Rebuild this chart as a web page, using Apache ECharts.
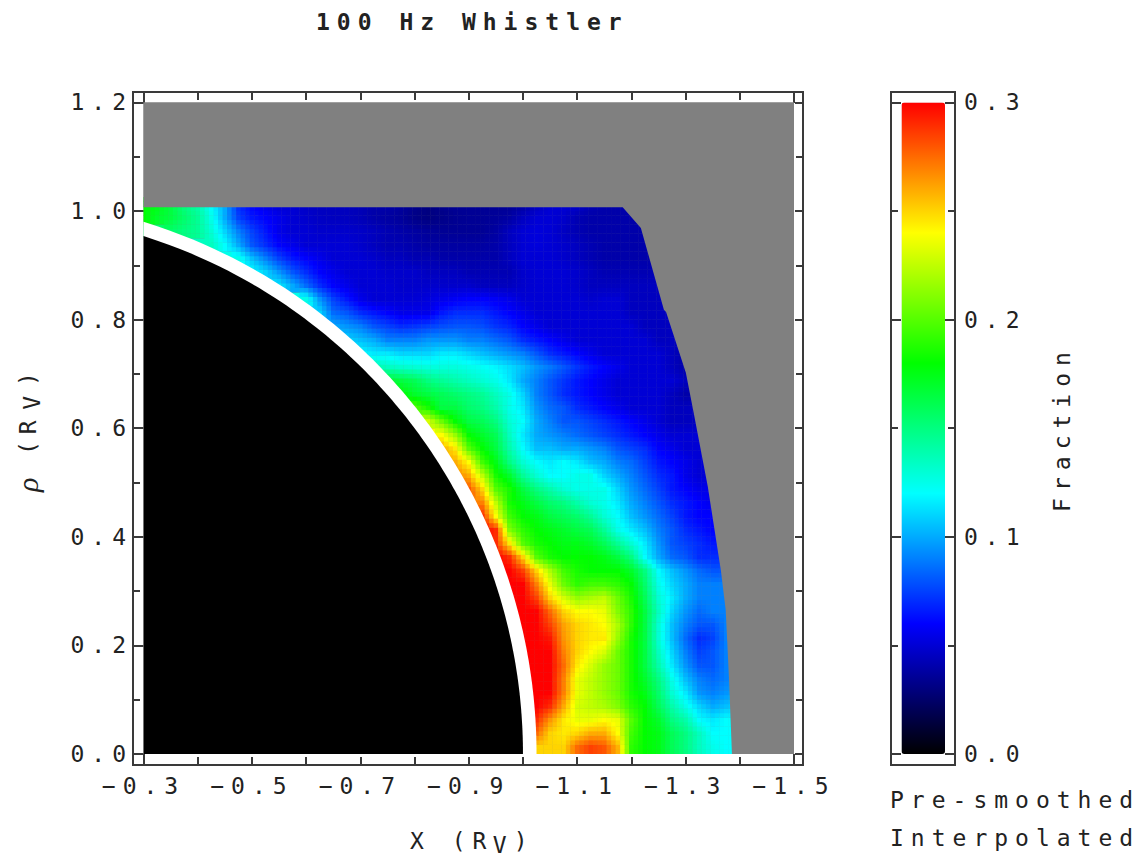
<!DOCTYPE html>
<html><head><meta charset="utf-8">
<style>
html,body{margin:0;padding:0;background:#fff}
#c{width:1142px;height:857px}
#c text{letter-spacing:7px}
</style>
<script src="https://cdn.jsdelivr.net/npm/echarts@6/dist/echarts.min.js"></script>
</head><body><div id="c"></div>
<script>
// Fraction, in thousandths. rows[j] is the row rho = rowRho0 + j*cellSize,
// its first value sits in column rowStart[j]; column i is X = colX0 - i*cellSize.
const colX0 = -0.3, rowRho0 = 0.0125, cellSize = 0.025;
const rowStart = [29,29,29,29,29,29,28,28,28,28,28,27,27,27,26,26,25,25,25,24,23,23,22,22,21,20,19,18,17,16,15,14,13,12,10,8,7,5,2,0,0];
const rows = [
[250,250,250,275,285,280,258,190,180,175,160,150,135,125,120,120],
[275,250,245,250,260,260,240,195,180,175,160,150,135,120,120,120],
[290,265,245,235,235,240,235,200,180,170,150,140,120,115,120,120],
[300,290,260,230,225,220,210,190,180,160,140,125,110,100,105,110],
[300,300,270,235,225,215,205,185,175,155,130,115,95,90,95,100],
[300,300,270,235,225,215,205,185,170,150,125,105,90,85,90,95],
[300,300,300,275,245,230,215,205,185,165,140,115,95,80,80,90,95],
[300,300,300,270,250,240,230,205,185,165,135,110,90,75,80,90,95],
[300,300,295,265,250,245,245,215,185,165,130,105,85,70,75,90,95],
[300,300,285,262,250,245,240,220,190,165,130,105,90,80,80,90,95],
[300,300,275,250,240,240,235,210,190,165,135,110,95,85,90,90,90],
[300,300,285,250,230,215,220,225,205,185,160,130,115,100,90,90,90],
[300,300,270,235,205,190,195,195,190,180,155,125,110,100,90,90,90],
[300,285,250,220,195,185,180,180,180,170,150,120,105,95,85,80,80],
[300,290,250,200,185,180,180,180,175,165,150,120,100,85,80,70,70,70],
[290,245,200,185,180,175,175,170,160,145,130,115,95,80,75,70,65,65],
[300,290,210,190,180,175,170,165,160,145,125,115,105,90,80,70,65,60,60],
[290,240,195,180,175,165,160,155,145,130,120,105,95,85,75,65,60,60],
[270,225,185,175,165,155,150,140,130,125,115,100,90,80,70,65,60,55],
[280,250,200,185,165,150,140,130,125,125,125,110,95,85,75,65,60,55,55],
[270,260,225,185,170,145,130,120,120,125,125,110,100,90,80,70,65,55,50,50],
[260,240,195,175,150,130,120,115,120,115,105,100,90,85,75,65,60,55,50,50],
[260,245,200,180,165,140,120,105,105,100,100,95,90,80,75,70,60,55,50,50,50],
[240,215,180,170,160,135,115,100,95,90,85,80,75,70,65,60,55,50,50,50],
[230,205,180,165,160,150,130,120,100,90,80,80,75,70,65,60,55,50,45,45,45],
[200,185,165,165,155,150,140,125,115,95,85,80,70,65,60,55,50,50,50,45,45,45],
[180,170,165,160,155,150,145,135,125,110,90,80,70,65,60,55,50,50,50,50,45,40],
[170,165,160,150,145,140,135,130,125,115,100,90,80,72,65,60,55,50,50,50,50,50,45,40],
[140,135,132,130,128,128,128,125,122,118,112,105,95,88,80,72,65,60,55,50,50,50,45,40],
[120,115,115,110,110,110,115,115,110,105,100,95,90,80,70,65,60,55,50,50,50,50,50,45,40],
[110,105,100,90,90,90,95,95,95,90,90,85,80,70,65,60,55,50,50,50,50,50,50,45,45],
[100,95,90,80,75,70,72,75,78,80,80,78,72,68,60,55,50,50,50,50,50,50,50,45,45,45],
[110,85,80,70,65,60,55,55,55,65,70,70,70,65,60,55,50,50,50,50,50,50,50,45,45,45,45],
[125,95,75,65,55,50,50,50,50,52,55,58,60,60,58,55,50,50,50,50,50,48,50,50,45,45,45],
[115,100,85,70,60,55,50,50,50,48,48,48,48,48,48,45,45,45,48,50,50,50,48,45,45,45,45,45,45],
[120,110,95,80,70,60,55,50,50,50,48,48,48,45,45,45,42,42,42,42,48,50,50,50,48,45,42,42,42,42,42],
[125,105,90,75,65,60,55,50,50,50,48,45,45,42,42,40,40,40,40,40,45,50,50,50,48,45,42,40,40,40,40],
[135,120,100,80,70,60,55,50,50,50,50,48,45,42,42,40,38,38,38,38,38,40,45,50,52,50,48,45,42,40,40,40,40],
[155,150,145,130,110,90,75,65,55,50,50,48,48,48,47,45,42,40,38,36,35,35,35,35,38,45,50,52,50,46,42,40,40,40,40,40],
[180,170,165,155,145,125,100,75,65,60,55,50,48,46,45,45,43,40,38,36,32,30,32,34,35,35,36,38,45,50,50,48,42,40,40,40,40],
[180,175,165,150,140,120,100,70,60,55,50,50,47,45,45,45,43,40,40,37,33,30,33,35,35,35,35,35,38,45,50,50,48,42,40,40,40,40]
];
// Edge of the sampled region (everything beyond it is grey)
const edgeX = [-1.3855,-1.380,-1.374,-1.365,-1.341,-1.315,-1.3005,-1.264,-1.260,-1.2175,-1.184,-0.3];
const edgeRho = [0,0.142,0.265,0.339,0.492,0.628,0.702,0.814,0.818,0.969,1.007,1.007];
const plotX = [-0.3,-1.5], plotRho = [0,1.2];
const planetRadius = 1.0, ringRadius = 1.025;
const xLabels = [-0.3,-0.5,-0.7,-0.9,-1.1,-1.3,-1.5];
const xTicks = [-0.3,-0.4,-0.5,-0.6,-0.7,-0.8,-0.9,-1.0,-1.1,-1.2,-1.3,-1.4,-1.5];
const rhoMajor = [0,0.2,0.4,0.6,0.8,1.0,1.2];
const rhoMinor = [0.1,0.3,0.5,0.7,0.9,1.1];
const barMajor = [0,0.1,0.2,0.3];
const barMinor = [0.05,0.15,0.25];
const colourStops = ['#000000','#0000ff','#00ffff','#00ff00','#ffff00','#ff0000'];
const fractionMax = 0.3;

const LINE = {color:'#3a3a3a',width:2};
const FONT = 'DejaVu Sans Mono', TXT = '#222';
const cells = [];
rows.forEach((r,j)=>r.forEach((v,k)=>cells.push([colX0-(rowStart[j]+k)*cellSize,rowRho0+j*cellSize,v/1000,j,rowStart[j]+k])));
const shade=v=>echarts.color.lerp(Math.min(v,300)/1000/fractionMax,colourStops);
function at(j,i){const r=rows[j];if(!r)return null;const k=i-rowStart[j];return k>=0&&k<r.length?r[k]:null;}
// A read cell is painted with a soft shading towards its neighbours (the picture is a shaded surface).
const SUB=[-1/3,0,1/3];
function cellGroup(api){
  const x=api.value(0),y=api.value(1),j=api.value(3),i=api.value(4),v=at(j,i),h=cellSize/2;
  const children=[];
  if(i===rowStart[j]){const a=api.coord([Math.min(x+4*h,plotX[0]),y+h]),b=api.coord([x,y-h]);
    children.push({type:'rect',shape:{x:a[0],y:a[1],width:b[0]-a[0],height:b[1]-a[1]},style:{fill:shade(v)}});}
  SUB.forEach(dv=>SUB.forEach(du=>{
    const si=du<0?-1:1,sj=dv<0?-1:1,wu=Math.abs(du),wv=Math.abs(dv);
    const A=at(j,i+si),B=at(j+sj,i),C=at(j+sj,i+si);
    const a1=A==null?v:A,b1=B==null?v:B,c1=C==null?(A==null?b1:B==null?a1:(a1+b1)/2):C;
    const w=(1-wu)*(1-wv)*v+wu*(1-wv)*a1+(1-wu)*wv*b1+wu*wv*c1;
    const cx=x-du*cellSize,cy=y+dv*cellSize,q=cellSize/6;
    const a=api.coord([Math.min(cx+q,plotX[0]),cy+q]),b=api.coord([cx-q,cy-q]);
    if(b[0]<=a[0])return;
    children.push({type:'rect',shape:{x:a[0],y:a[1]-0.4,width:b[0]-a[0]+0.4,height:b[1]-a[1]+0.4},style:{fill:shade(w)}});
  }));
  return {type:'group',children};
}

function xAx(grid,pos,ticks,len,extent,extra){return Object.assign({type:'value',gridIndex:grid,position:pos,inverse:true,min:extent[0],max:extent[1],
  axisLine:{show:true,onZero:false,lineStyle:LINE},splitLine:{show:false},
  axisTick:{show:!!ticks,inside:true,length:len,lineStyle:LINE,customValues:ticks||[]},axisLabel:{show:false}},extra||{});}
function yAx(grid,pos,ticks,len,extent,extra){return Object.assign({type:'value',gridIndex:grid,position:pos,min:extent[0],max:extent[1],
  axisLine:{show:true,onZero:false,lineStyle:LINE},splitLine:{show:false},
  axisTick:{show:true,inside:true,length:len,lineStyle:LINE,customValues:ticks},axisLabel:{show:false}},extra||{});}
const xE=[-1.5166,-0.2806], yE=[-0.0203,1.2193], bE=[-0.00507,0.3048], nE=[0,1];
const lab=(vals,fmt,m)=>({show:true,customValues:vals,formatter:fmt,margin:m,fontFamily:FONT,fontSize:23,color:TXT});
const fmt1=v=>Number(v).toFixed(1).replace('-','\u2212');

const rich={a:{fontFamily:FONT,fontSize:23,color:TXT},ax:{fontFamily:FONT,fontSize:23,color:TXT,padding:[0,17,0,19]},a14:{fontFamily:FONT,fontSize:23,color:TXT,padding:[0,14,0,0]},
  s:{fontFamily:FONT,fontSize:23,color:TXT,padding:[8,7,0,0]},sy:{fontFamily:FONT,fontSize:23,color:TXT,padding:[8,10,0,0]},
  i:{fontFamily:'Liberation Serif',fontStyle:'italic',fontSize:30,color:TXT,padding:[0,26,0,0]}};

const option={
  animation:false,backgroundColor:'#fff',
  title:[
    {text:'100 Hz Whistler',left:316,top:10,padding:0,textStyle:{fontFamily:FONT,fontSize:23,fontWeight:'bold',color:TXT}},
    {text:'Pre-smoothed',left:890,top:788,padding:0,textStyle:{fontFamily:FONT,fontSize:23,fontWeight:'normal',color:TXT}},
    {text:'Interpolated',left:890,top:826,padding:0,textStyle:{fontFamily:FONT,fontSize:23,fontWeight:'normal',color:TXT}}
  ],
  grid:[{left:133,top:92,width:670,height:673,outerBoundsMode:'none'},{left:891,top:92,width:64,height:673,outerBoundsMode:'none'}],
  xAxis:[
    xAx(0,'bottom',xTicks,8,xE,{axisLabel:lab(xLabels,fmt1,9),name:'{ax|X (R}{s|V}{a|)}',nameLocation:'middle',nameGap:60,nameTextStyle:{rich}}),
    xAx(0,'top',xTicks,8,xE),
    xAx(0,'bottom',plotX,11,xE),
    xAx(0,'top',plotX,11,xE),
    xAx(1,'bottom',null,0,nE),
    xAx(1,'top',null,0,nE)
  ],
  yAxis:[
    yAx(0,'left',rhoMajor,11,yE,{axisLabel:lab(rhoMajor,fmt1,0),name:'{i|\u03c1}{a14|(R}{sy|V}{a|)}',nameLocation:'middle',nameGap:90,nameRotate:90,nameTextStyle:{rich}}),
    yAx(0,'right',rhoMajor,8,yE),
    yAx(0,'left',rhoMinor,7,yE),
    yAx(0,'right',rhoMinor,7,yE),
    yAx(1,'right',barMajor,10,bE,{axisLabel:lab(barMajor,fmt1,9),name:'Fraction',nameLocation:'middle',nameGap:95,nameRotate:90,nameTextStyle:{fontFamily:FONT,fontSize:23,color:TXT}}),
    yAx(1,'left',barMajor,10,bE),
    yAx(1,'left',barMinor,7,bE),
    yAx(1,'right',barMinor,7,bE)
  ],
  visualMap:{type:'continuous',min:0,max:fractionMax,dimension:2,seriesIndex:1,inRange:{color:colourStops},calculable:false,
    left:901.5,top:102.5,itemWidth:43.5,itemHeight:651.5,padding:0,text:null,borderWidth:0},
  series:[
    {type:'custom',silent:true,xAxisIndex:0,yAxisIndex:0,data:[[plotX[0],plotRho[0]]],clip:false,z:1,
     renderItem:(p,api)=>{const a=api.coord([plotX[0],plotRho[1]]),b=api.coord([plotX[1],plotRho[0]]);
       return {type:'rect',shape:{x:a[0],y:a[1],width:b[0]-a[0],height:b[1]-a[1]},style:{fill:'#808080'}};}},
    {type:'custom',silent:true,xAxisIndex:0,yAxisIndex:0,data:cells,encode:{x:0,y:1},clip:false,z:2,
     renderItem:(p,api)=>cellGroup(api)},
    {type:'custom',silent:true,xAxisIndex:0,yAxisIndex:0,data:edgeX.map((x,i)=>[x,edgeRho[i]]),clip:false,z:3,
     renderItem:(p,api)=>{ if(p.dataIndex!==0) return null;
       const pts=[[plotX[1],plotRho[0]]];
       edgeX.forEach((x,i)=>pts.push([x,edgeRho[i]]));
       pts.push([plotX[0],plotRho[1]],[plotX[1],plotRho[1]]);
       return {type:'polygon',shape:{points:pts.map(q=>api.coord(q))},style:{fill:'#808080'}};}},
    {type:'custom',silent:true,xAxisIndex:0,yAxisIndex:0,data:[[ringRadius,'#ffffff'],[planetRadius,'#000000']],clip:false,z:4,
     renderItem:(p,api)=>{const R=api.value(0),pts=[[plotX[0],0]];const top=Math.sqrt(R*R-0.09);
       for(let k=0;k<=120;k++){const r=top*k/120;pts.push([-Math.sqrt(R*R-r*r),r]);}
       pts.push([plotX[0],top]);
       return {type:'polygon',shape:{points:pts.map(q=>api.coord(q))},style:{fill:p.dataIndex===0?'#ffffff':'#000000'}};}}
  ]
};
const chart=echarts.init(document.getElementById('c'),null,{renderer:'svg'});
chart.setOption(option);
</script></body></html>
